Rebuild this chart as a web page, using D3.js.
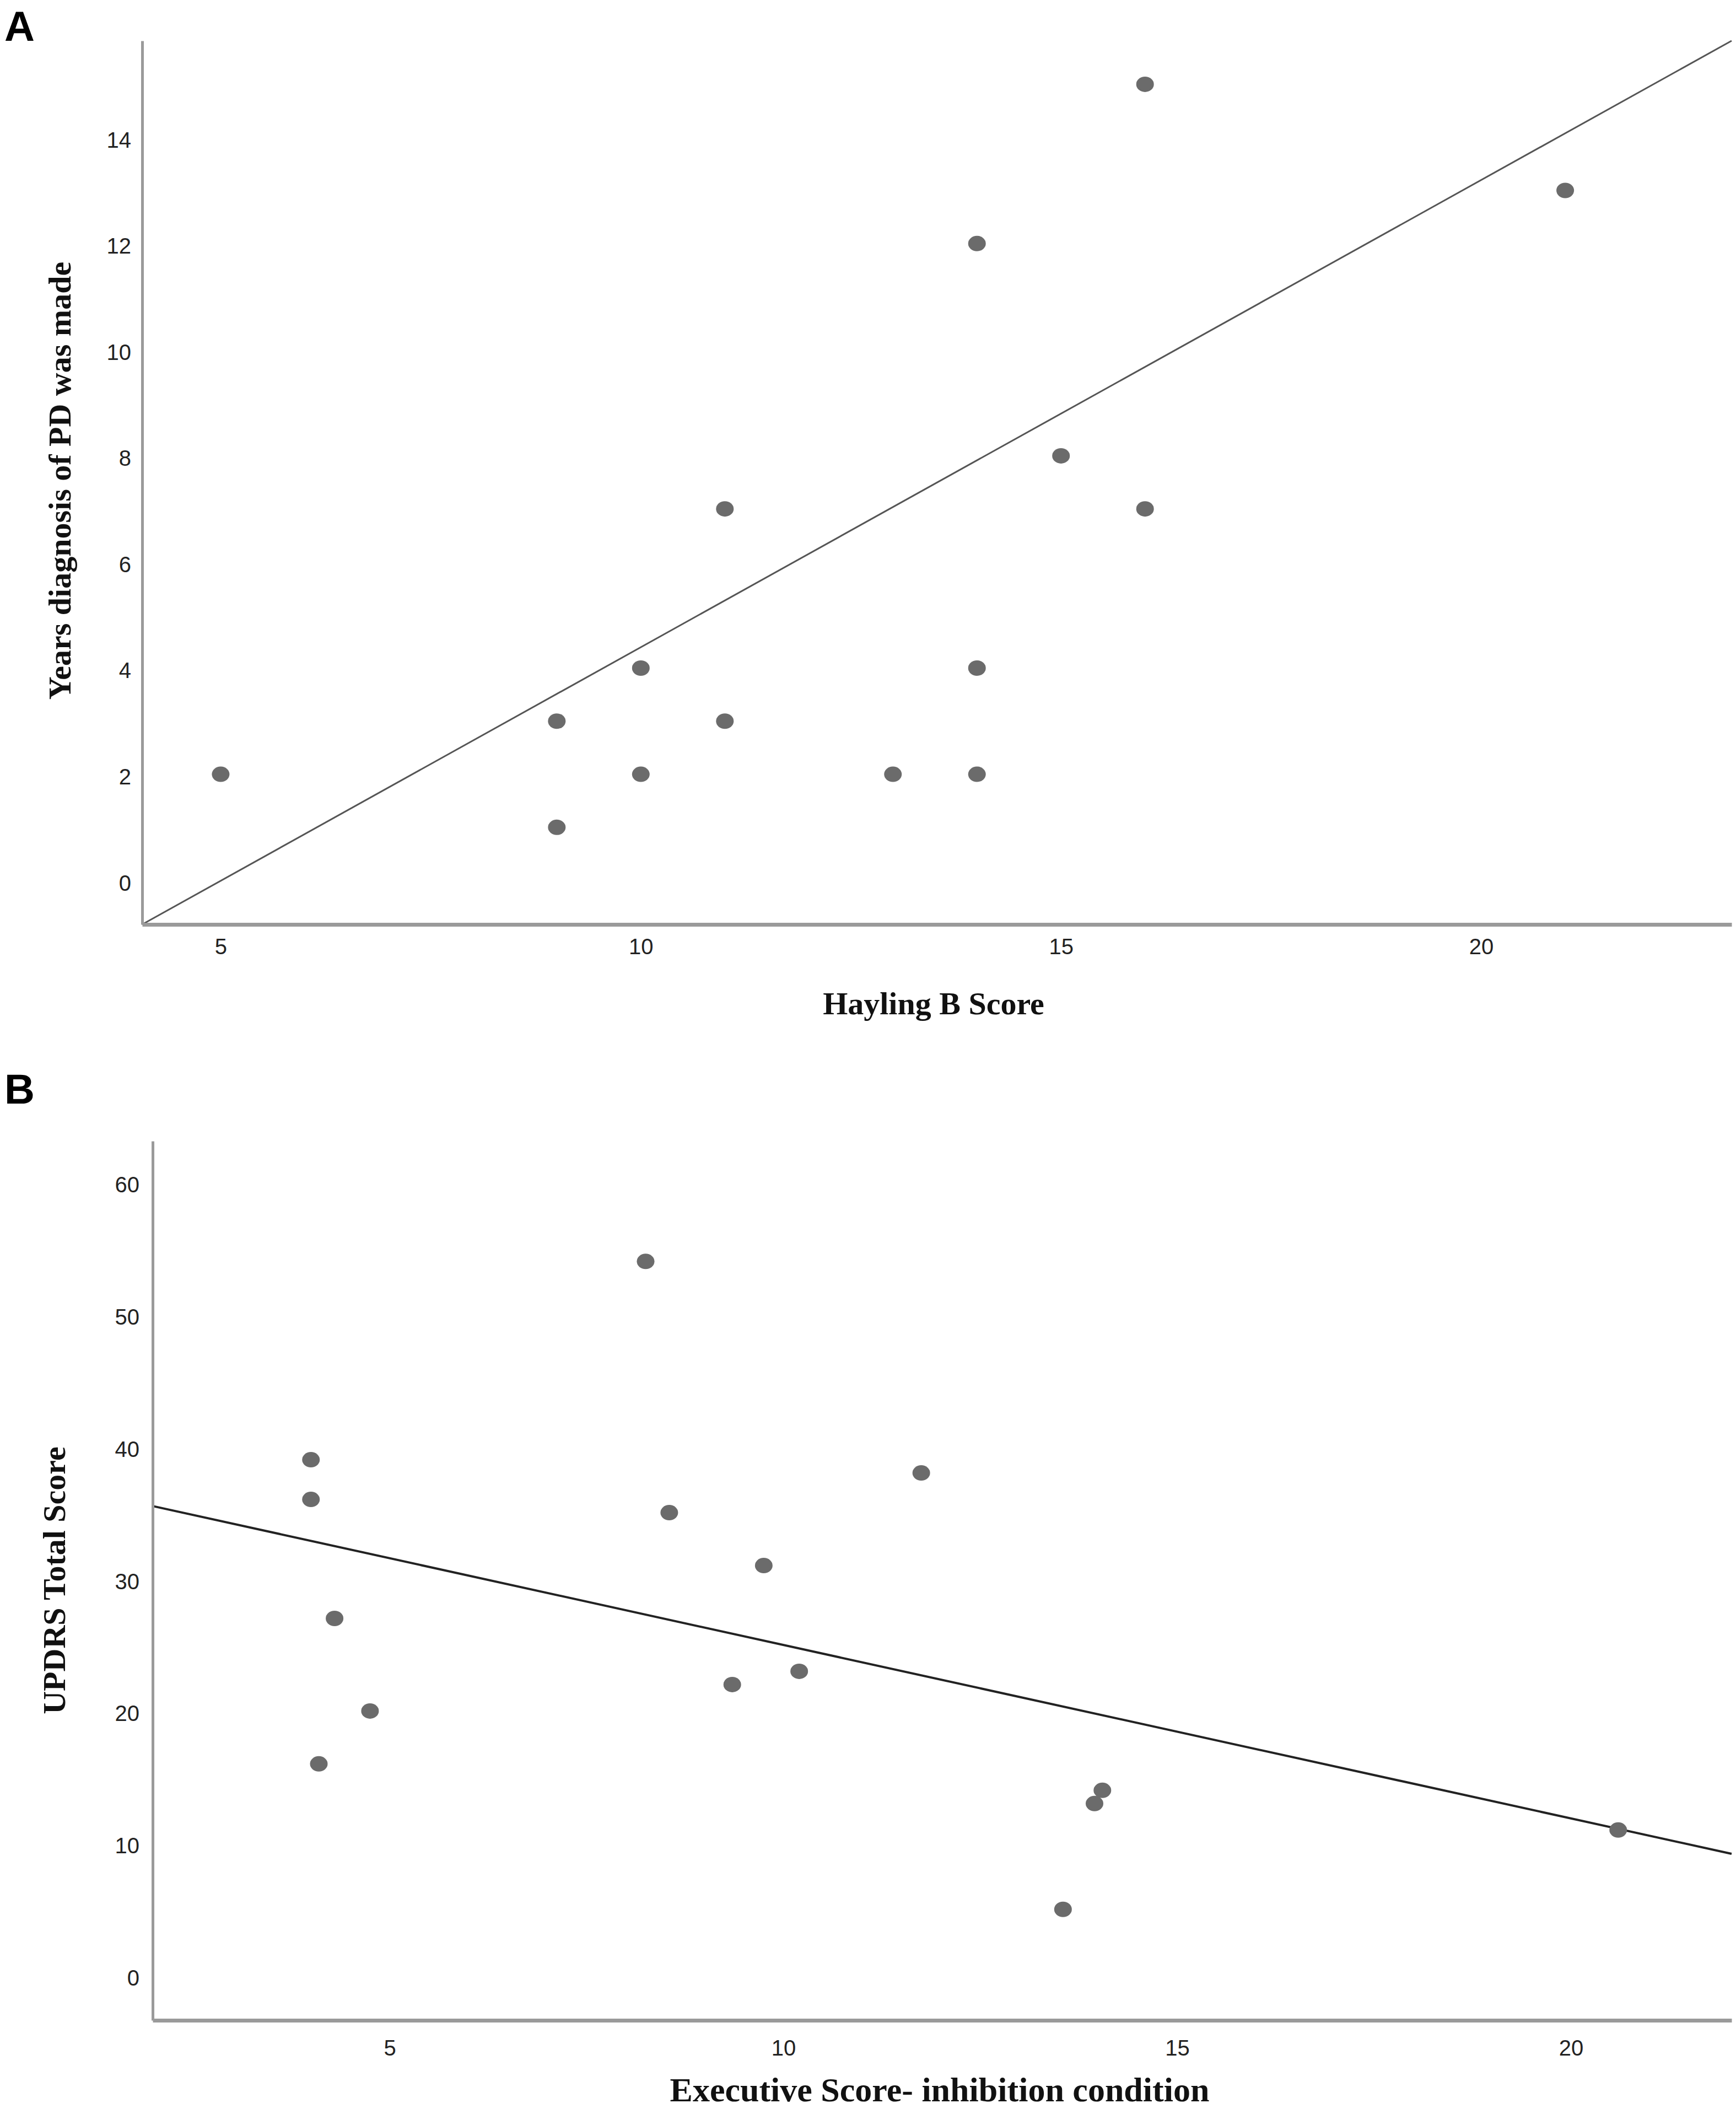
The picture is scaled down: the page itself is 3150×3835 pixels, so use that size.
<!DOCTYPE html>
<html>
<head>
<meta charset="utf-8">
<style>
  body { margin: 0; background: white; }
  svg { display: block; }
  .tick text { font-family: 'Liberation Sans', Arial, sans-serif; fill: #222; }
  .axis-title { font-family: 'Liberation Serif', 'Times New Roman', serif; font-weight: bold; fill: #111; }
  .panel-label { font-family: 'Liberation Sans', Arial, sans-serif; font-weight: bold; fill: #000; }
</style>
</head>
<body>
<svg width="3150" height="3835"></svg>

<script src="https://d3js.org/d3.v7.min.js"></script>
<script>
// panel A: Hayling B score vs years since diagnosis
const hayling = [5, 9, 9, 10, 10, 11, 11, 13, 14, 14, 14, 15, 16, 16, 21];
const yearsDx = [2, 3, 1, 4, 2, 7, 3, 2, 12, 4, 2, 8, 15, 7, 13];
const fitA = [[4.066, -0.83], [22.98, 15.82]];   // fit line ends, as drawn
const xTicksA = [5, 10, 15, 20];
const yTicksA = [0, 2, 4, 6, 8, 10, 12, 14];

// panel B: executive score vs UPDRS
const execScore = [4.0, 4.0, 4.3, 4.75, 4.1, 8.25, 8.55, 9.75, 9.35, 10.2, 11.75, 13.95, 14.05, 13.55, 20.6];
const updrs = [39, 36, 27, 20, 16, 54, 35, 31, 22, 23, 38, 13, 14, 5, 11];
const fitB = [[1.99, 35.5], [22.04, 9.2]];
const xTicksB = [5, 10, 15, 20];
const yTicksB = [0, 10, 20, 30, 40, 50, 60];

const svg = d3.select("svg");

function panel(o) {
  let x = d3.scaleLinear().domain(o.xDomain).range([o.left, o.right]);
  let y = d3.scaleLinear().domain(o.yDomain).range([o.bottom, o.top]);

  svg.append("text")
    .attr("class", "panel-label")
    .attr("x", 8).attr("y", o.labelY)
    .style("font-size", "76px")
    .text(o.label);

  // fit line
  svg.append("line")
    .attr("x1", x(o.fit[0][0])).attr("y1", y(o.fit[0][1]))
    .attr("x2", x(o.fit[1][0])).attr("y2", y(o.fit[1][1]))
    .attr("stroke", o.lineColor)
    .attr("stroke-width", o.lineWidth);

  // points
  svg.append("g")
    .selectAll("ellipse")
    .data(o.xs.map((d, i) => [d, o.ys[i]]))
    .join("ellipse")
    .attr("cx", d => x(d[0]))
    .attr("cy", d => y(d[1]))
    .attr("rx", 16)
    .attr("ry", 14)
    .attr("fill", "#6b6b6b");

  let xAxis = svg.append("g")
    .attr("transform", "translate(0," + o.bottom + ")")
    .call(d3.axisBottom(x).tickValues(o.xTicks).tickSize(0).tickPadding(o.xPad).tickFormat(d3.format("d")));
  xAxis.select(".domain").attr("stroke", "#9a9a9a").attr("stroke-width", 7);

  let yAxis = svg.append("g")
    .attr("transform", "translate(" + o.left + ",0)")
    .call(d3.axisLeft(y).tickValues(o.yTicks).tickSize(0).tickPadding(o.yPad).tickFormat(d3.format("d")));
  yAxis.select(".domain").attr("stroke", "#9a9a9a").attr("stroke-width", 5);
  yAxis.selectAll(".tick text").attr("dy", "0.45em");

  svg.selectAll(".tick text").style("font-size", "40px");

  svg.append("text")
    .attr("class", "axis-title")
    .attr("text-anchor", "middle")
    .attr("x", o.xTitleX).attr("y", o.xTitleY)
    .style("font-size", o.xTitleSize + "px")
    .text(o.xTitle);

  svg.append("text")
    .attr("class", "axis-title")
    .attr("text-anchor", "middle")
    .attr("transform", "translate(" + o.yTitleX + "," + o.yTitleY + ") rotate(-90)")
    .style("font-size", "58px")
    .text(o.yTitle);
}

panel({
  label: "A", labelY: 74,
  xs: hayling, ys: yearsDx, fit: fitA,
  xDomain: [4.066, 22.98], yDomain: [-0.83, 15.82],
  left: 258, right: 3142, top: 74, bottom: 1677,
  xTicks: xTicksA, yTicks: yTicksA, xPad: 26, yPad: 20,
  lineColor: "#555", lineWidth: 3,
  xTitle: "Hayling B Score", xTitleX: 1694, xTitleY: 1840, xTitleSize: 58,
  yTitle: "Years diagnosis of PD was made", yTitleX: 128, yTitleY: 872
});

panel({
  label: "B", labelY: 2002,
  xs: execScore, ys: updrs, fit: fitB,
  xDomain: [1.99, 22.04], yDomain: [-3.39, 63.1],
  left: 277, right: 3142, top: 2070, bottom: 3665,
  xTicks: xTicksB, yTicks: yTicksB, xPad: 36, yPad: 24,
  lineColor: "#222", lineWidth: 4,
  xTitle: "Executive Score- inhibition condition", xTitleX: 1705, xTitleY: 3812, xTitleSize: 62,
  yTitle: "UPDRS Total Score", yTitleX: 118, yTitleY: 2867
});
</script>
</body>
</html>
